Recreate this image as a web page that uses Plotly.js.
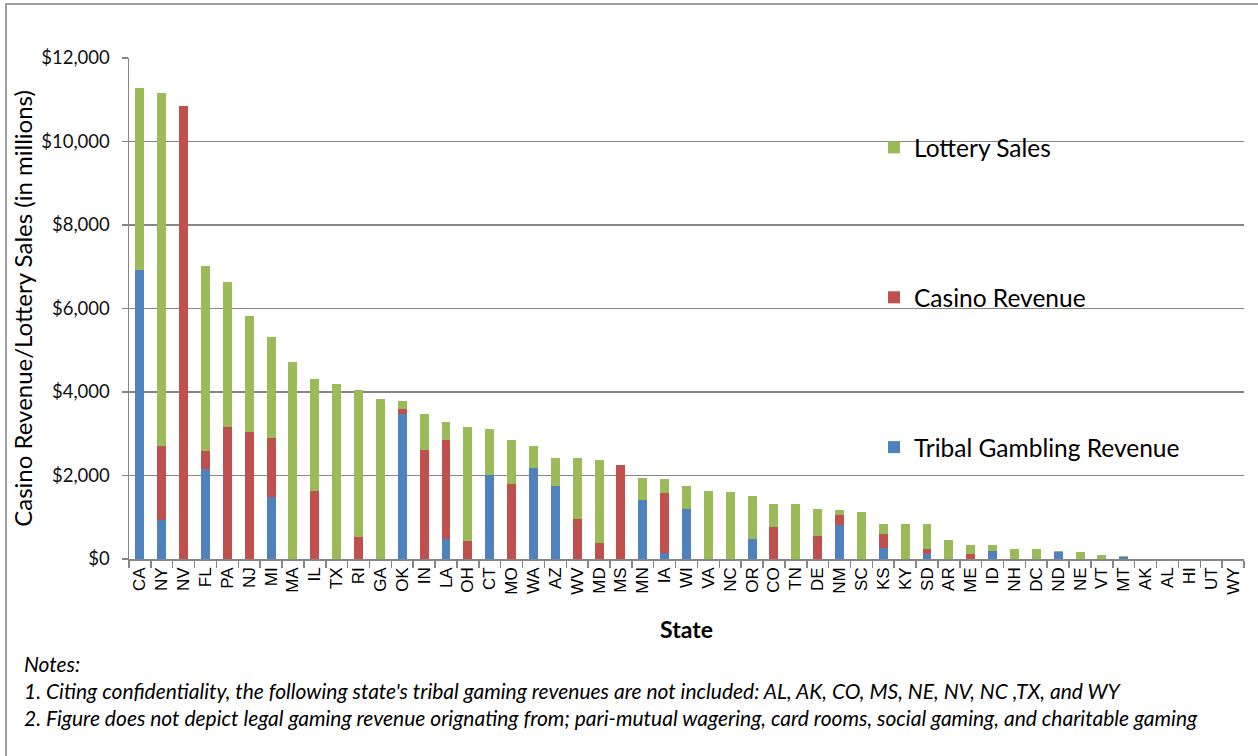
<!DOCTYPE html>
<html>
<head>
<meta charset="utf-8">
<script src="https://cdn.plot.ly/plotly-3.0.1.min.js"></script>
<style>
  html, body { margin: 0; padding: 0; background: #fff; }
  #chart { width: 1258px; height: 756px; }
</style>
</head>
<body>
<div id="chart"></div>
<script>
// Categories (states), ordered as in the reference
const states = [
  "CA","NY","NV","FL","PA","NJ","MI","MA","IL","TX",
  "RI","GA","OK","IN","LA","OH","CT","MO","WA","AZ",
  "WV","MD","MS","MN","IA","WI","VA","NC","OR","CO",
  "TN","DE","NM","SC","KS","KY","SD","AR","ME","ID",
  "NH","DC","ND","NE","VT","MT","AK","AL","HI","UT",
  "WY"
];

// Values in $ millions
const tribalRevenue = [
  6920, 930, 0, 2150, 0, 0, 1480, 0, 0, 0,
  0, 0, 3480, 0, 470, 0, 2010, 0, 2190, 1760,
  0, 0, 0, 1420, 140, 1200, 0, 0, 470, 0,
  0, 0, 810, 0, 260, 0, 130, 0, 0, 180,
  0, 0, 170, 0, 0, 50, 0, 0, 0, 0,
  0
];
const casinoRevenue = [
  0, 1780, 10840, 440, 3160, 3040, 1410, 0, 1640, 0,
  530, 0, 120, 2620, 2390, 440, 0, 1790, 0, 0,
  960, 390, 2240, 0, 1440, 0, 0, 0, 0, 770,
  0, 550, 240, 0, 330, 0, 110, 0, 120, 0,
  0, 0, 0, 0, 0, 0, 0, 0, 0, 0,
  0
];
const lotterySales = [
  4350, 8440, 0, 4440, 3470, 2770, 2420, 4730, 2670, 4180,
  3530, 3840, 180, 860, 430, 2730, 1100, 1070, 520, 650,
  1450, 1990, 0, 520, 330, 550, 1630, 1600, 1040, 550,
  1320, 650, 120, 1130, 240, 830, 590, 460, 220, 160,
  250, 250, 30, 160, 100, 20, 0, 0, 0, 0,
  0
];

const seriesNames = ["Tribal Gambling Revenue", "Casino Revenue", "Lottery Sales"];
const seriesColors = ["#4F81BD", "#C0504D", "#9BBB59"];
const seriesValues = [tribalRevenue, casinoRevenue, lotterySales];
const legendRanks = [3, 2, 1];

const yTickVals = [0, 2000, 4000, 6000, 8000, 10000, 12000];

const noteLines = [
  "Notes:",
  "1. Citing confidentiality, the following state's tribal gaming revenues are not included: AL, AK, CO, MS, NE, NV, NC ,TX, and WY",
  "2. Figure does not depict legal gaming revenue orignating from; pari-mutual wagering, card rooms, social gaming, and charitable gaming"
];

const traces = seriesNames.map((name, i) => ({
  type: "bar",
  name: name,
  x: states,
  y: seriesValues[i],
  legendgroup: "g" + i,
  legendrank: legendRanks[i],
  marker: { color: seriesColors[i], line: { width: 0 } },
  hoverinfo: "x+y+name"
}));

// plot area in pixels: left 129, right 1244, top 58, bottom 559
const L = 129, R = 14, T = 58, B = 197, W = 1258, H = 756;
const pw = W - L - R, ph = H - T - B;
const px2x = px => (px - L) / pw;
const py2y = py => (H - B - py) / ph;

const GRAY = "#868686";
const CAL = "Lato, 'Open Sans', sans-serif";

const annotations = noteLines.map((t, i) => ({
  text: "<i>" + t + "</i>",
  xref: "paper", yref: "paper",
  x: px2x(22), y: py2y(663 + i * 27),
  xanchor: "left", yanchor: "middle",
  showarrow: false,
  font: { family: CAL, size: 21, color: "#000" }
}));

const layout = {
  width: W, height: H,
  margin: { l: L, r: R, t: T, b: B, pad: 0 },
  paper_bgcolor: "#fff",
  plot_bgcolor: "#fff",
  barmode: "stack",
  bargap: 0.59,
  showlegend: true,
  legend: {
    x: px2x(874), y: py2y(125), xanchor: "left", yanchor: "top",
    traceorder: "grouped",
    tracegroupgap: 115,
    bgcolor: "rgba(0,0,0,0)",
    font: { family: CAL, size: 24.5, color: "#000" }
  },
  xaxis: {
    type: "category",
    range: [-0.5, states.length - 0.5],
    showline: true, linecolor: GRAY, linewidth: 1.5,
    ticks: "outside", tickson: "boundaries", ticklen: 7, tickcolor: GRAY, tickwidth: 1.5,
    tickangle: -90,
    tickfont: { family: "'Liberation Sans', Arial, sans-serif", size: 17, color: "#000" },
    showgrid: false,
    title: { text: "<b>State</b>", standoff: 28, font: { family: CAL, size: 23, color: "#000" } },
    automargin: false
  },
  yaxis: {
    range: [0, 12000],
    tickvals: yTickVals,
    tickformat: "$,.0f",
    showline: true, linecolor: GRAY, linewidth: 1.5,
    ticks: "outside", ticklen: 6, tickcolor: GRAY, tickwidth: 1.5,
    ticklabelstandoff: 8,
    showgrid: true, gridcolor: GRAY, gridwidth: 1.5,
    zeroline: false,
    tickfont: { family: CAL, size: 18.5, color: "#111" },
    title: { text: "Casino Revenue/Lottery Sales (in millions)", standoff: 2, font: { family: CAL, size: 24, color: "#000" } },
    automargin: false
  },
  shapes: [{
    type: "rect", xref: "paper", yref: "paper", layer: "below",
    x0: px2x(6), x1: px2x(1300), y0: py2y(4), y1: py2y(800),
    line: { color: "#808080", width: 1.5 }, fillcolor: "rgba(0,0,0,0)"
  }],
  annotations: annotations
};

Plotly.newPlot("chart", traces, layout, { staticPlot: true, displayModeBar: false });
</script>
</body>
</html>
